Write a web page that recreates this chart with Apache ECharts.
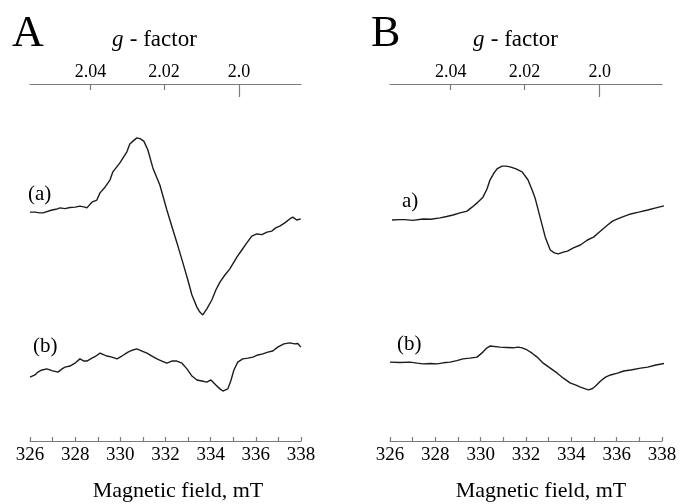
<!DOCTYPE html>
<html><head><meta charset="utf-8">
<script src="https://cdn.jsdelivr.net/npm/echarts@6/dist/echarts.min.js"></script>
<style>html,body{margin:0;padding:0;background:#fff}#c{width:681px;height:504px}</style>
</head><body><div id="c"></div>
<script>
// ---- data (magnetic field in mT, signal in arbitrary units) ----
const gTickValues = [2.04, 2.02, 2.0];
const gTickLabels = ['2.04', '2.02', '2.0'];
const hvOverMuB = 670.5; // mT, field = hvOverMuB / g

const fieldAa = [326.0,326.22,326.44,326.58,326.66,326.97,327.15,327.33,327.55,327.77,328.0,328.21,328.43,328.52,328.74,328.96,329.10,329.32,329.54,329.67,329.98,330.29,330.42,330.56,330.73,330.87,331.04,331.22,331.44,331.75,332.06,332.33,332.55,332.77,332.99,333.17,333.39,333.52,333.65,333.83,334.05,334.23,334.41,334.63,334.85,335.16,335.38,335.60,335.82,336.04,336.27,336.49,336.71,336.88,337.06,337.28,337.50,337.64,337.81,337.99];
const signalAa = [64.1,64.1,63.9,63.9,64.4,64.7,64.9,65.3,65.1,65.4,65.5,65.8,65.5,65.3,66.9,67.5,69.5,71.1,73.1,75.4,77.9,81.0,83.2,84.0,84.9,84.7,84.0,81.5,76.5,71.7,64.7,59.1,54.6,49.9,45.1,40.9,37.5,36.1,35.3,37.0,39.5,42.3,44.5,46.5,48.2,51.5,53.5,55.5,57.4,58.0,57.8,58.5,58.8,59.7,60.2,61.1,62.2,62.7,61.9,62.2];

const fieldAb = [326.0,326.22,326.35,326.53,326.75,326.97,327.24,327.42,327.55,327.77,327.99,328.21,328.39,328.52,328.74,328.92,329.10,329.28,329.41,329.63,329.85,330.07,330.34,330.56,330.73,330.96,331.18,331.40,331.62,331.84,332.06,332.28,332.50,332.73,332.95,333.17,333.39,333.61,333.83,334.01,334.23,334.41,334.54,334.76,334.89,335.03,335.20,335.42,335.65,335.87,336.09,336.31,336.53,336.75,336.97,337.24,337.50,337.72,337.86,337.99];
const signalAb = [17.9,18.5,19.3,19.9,20.2,19.7,19.3,20.2,20.7,21.0,21.8,23.0,22.4,22.4,23.2,23.8,24.6,24.1,23.8,23.5,23.0,23.8,24.9,25.5,25.8,25.2,24.6,23.8,23.0,22.4,21.8,22.4,22.4,21.8,20.2,18.2,17.1,16.8,16.5,17.1,15.7,14.6,14.0,14.6,16.8,19.9,22.1,23.0,23.2,23.5,24.1,24.4,24.9,25.2,26.3,27.2,27.5,27.2,27.3,26.3];

const fieldBa = [326.09,326.4,326.66,327.0,327.46,327.8,328.21,328.5,328.78,329.09,329.40,329.62,329.84,330.10,330.28,330.41,330.59,330.72,330.94,331.12,331.30,331.56,331.83,332.09,332.27,332.40,332.62,332.85,333.07,333.25,333.42,333.65,333.83,334.09,334.40,334.71,334.98,335.29,335.60,335.82,336.04,336.35,336.62,336.97,337.37,337.73,338.04,338.2];
const signalBa = [61.9,62.0,62.0,61.8,62.2,62.1,62.5,62.9,63.3,63.9,64.4,65.5,66.7,68.3,70.6,73.1,75.1,76.2,77.0,77.0,76.8,76.2,75.4,73.1,70.3,68.1,62.7,57.1,53.5,52.7,52.4,52.9,53.2,54.1,54.9,56.3,57.1,58.8,60.5,61.6,62.2,63.0,63.6,64.1,64.7,65.3,65.8,66.0];

const fieldBb = [326.0,326.44,326.88,327.2,327.46,327.8,328.07,328.35,328.65,328.95,329.22,329.53,329.84,330.10,330.28,330.41,330.85,331.16,331.43,331.65,331.83,332.05,332.27,332.49,332.76,333.07,333.38,333.65,333.96,334.18,334.40,334.62,334.76,334.94,335.07,335.29,335.51,335.73,336.04,336.31,336.62,337.06,337.37,337.73,338.17];
const signalBb = [22.1,22.0,22.1,21.8,21.6,21.7,21.6,21.9,22.1,22.5,23.0,23.2,23.5,24.9,26.1,26.6,26.3,26.2,26.1,26.3,26.1,25.5,24.6,23.5,21.8,20.4,19.0,17.6,16.2,15.7,15.1,14.6,14.3,14.7,15.4,16.8,17.9,18.5,19.0,19.6,19.9,20.4,20.7,21.3,21.8];

// ---- chart ----
const serif = "'Liberation Serif','Times New Roman',serif";
const gFields = gTickValues.map(g => +(hvOverMuB / g).toFixed(3));
const pairs = (xs, ys) => xs.map((x, i) => [x, ys[i]]);
const axisGray = '#7a7a7a';

function bottomAxis(gi) {
  return {
    gridIndex: gi, type: 'value', min: 326, max: 338, interval: 2, position: 'bottom',
    axisLine: {show: true, lineStyle: {color: axisGray, width: 1.2}},
    axisTick: {show: true, inside: true, length: 4, lineStyle: {color: axisGray, width: 1.2}},
    minorTick: {show: true, splitNumber: 2, length: 4, lineStyle: {color: axisGray, width: 1.2}},
    axisLabel: {color: '#000', fontSize: 19, fontFamily: serif, margin: 5},
    splitLine: {show: false}
  };
}
function topAxis(gi) {
  return {
    gridIndex: gi, type: 'value', min: 326, max: 338, position: 'top',
    axisLine: {show: true, lineStyle: {color: axisGray, width: 1.2}},
    axisTick: {show: true, inside: true, length: 6, customValues: gFields.slice(0, 2), lineStyle: {color: axisGray, width: 1.2}},
    axisLabel: {show: true, customValues: gFields, color: '#000', fontSize: 18, fontFamily: serif, margin: 3,
      formatter: v => { const i = gFields.findIndex(f => Math.abs(f - v) < 1e-3); return i >= 0 ? gTickLabels[i] : ''; }},
    splitLine: {show: false}
  };
}
function topLongTick(gi) {
  return {
    gridIndex: gi, type: 'value', min: 326, max: 338, position: 'top',
    axisLine: {show: false},
    axisTick: {show: true, inside: true, length: 13, customValues: gFields.slice(2), lineStyle: {color: axisGray, width: 1.2}},
    axisLabel: {show: false}, splitLine: {show: false}
  };
}
function line(xi, yi, data, clip) {
  return {type: 'line', xAxisIndex: xi, yAxisIndex: yi, data, showSymbol: false, clip: clip,
    lineStyle: {color: '#1c1c1c', width: 1.4}, animation: false};
}
function txt(text, x, y, size, align, italic) {
  return {type: 'text', z: 10, style: {text, x, y, fill: '#000',
    font: (italic ? 'italic ' : '') + size + 'px ' + serif, align: align, verticalAlign: 'middle'}};
}

const chart = echarts.init(document.getElementById('c'), null, {renderer: 'canvas'});
chart.setOption({
  animation: false,
  backgroundColor: '#fff',
  grid: [
    {left: 30, top: 84, width: 271, height: 357},
    {left: 390, top: 84, width: 272, height: 357}
  ],
  xAxis: [bottomAxis(0), bottomAxis(1), topAxis(0), topAxis(1), topLongTick(0), topLongTick(1)],
  yAxis: [
    {gridIndex: 0, type: 'value', min: 0, max: 100, show: false},
    {gridIndex: 1, type: 'value', min: 0, max: 100, show: false}
  ],
  series: [
    line(0, 0, pairs(fieldAa, signalAa), true),
    line(0, 0, pairs(fieldAb, signalAb), true),
    line(1, 1, pairs(fieldBa, signalBa), false),
    line(1, 1, pairs(fieldBb, signalBb), false)
  ],
  graphic: [
    txt('A', 12, 34, 44, 'left'),
    txt('B', 371, 34, 44, 'left'),
    txt('g', 112, 40, 23, 'left', true),
    txt(' - factor', 124, 40, 23, 'left'),
    txt('g', 473, 40, 23, 'left', true),
    txt(' - factor', 485, 40, 23, 'left'),
    txt('Magnetic field, mT', 178, 491, 22, 'center'),
    txt('Magnetic field, mT', 541, 491, 22, 'center'),
    txt('(a)', 28, 194, 21, 'left'),
    txt('(b)', 33, 346, 21, 'left'),
    txt('a)', 402, 201, 21, 'left'),
    txt('(b)', 397, 344, 21, 'left')
  ]
});
</script></body></html>
